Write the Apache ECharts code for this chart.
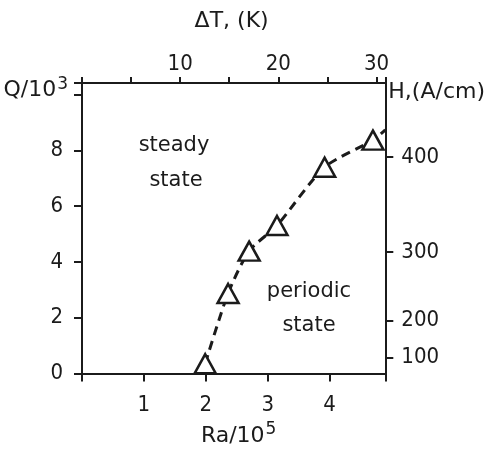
<!DOCTYPE html>
<html>
<head>
<meta charset="utf-8">
<script src="https://cdn.jsdelivr.net/npm/echarts@6/dist/echarts.min.js"></script>
<style>
  html, body { margin: 0; padding: 0; background: #fff; }
  #main { width: 488px; height: 452px; }
</style>
</head>
<body>
<div id="main"></div>
<script>
// measured points (Ra/10^5, Q/10^3)
var raPoints = [1.99, 2.36, 2.70, 3.15, 3.92, 4.70];
var qPoints = [0.35, 2.87, 4.39, 5.31, 7.40, 8.37];
// dashed boundary, runs on to the right frame
var boundaryRa = [1.99, 2.36, 2.70, 3.15, 3.92, 4.70, 4.90];
var boundaryQ = [0.35, 2.87, 4.39, 5.31, 7.40, 8.37, 8.74];
// right axis: H tick labels and where they sit on the Q scale
var hLabels = [100, 200, 300, 400];
var hAtQ = [0.58, 1.90, 4.36, 7.76];
// bottom / top tick labels
var raTicks = [1, 2, 3, 4];
var dtLabels = [10, 20, 30];

var ink = "#1b1b1b";
var numFont = "DejaVu Sans Condensed";
var txtFont = "DejaVu Sans";

var chart = echarts.init(document.getElementById("main"));

var axisCommon = {
  axisLine: { show: true, onZero: false, lineStyle: { color: ink, width: 2 } },
  axisTick: { show: true, inside: false, length: 8, lineStyle: { color: ink, width: 2 } },
  splitLine: { show: false },
  axisLabel: { color: ink, fontFamily: numFont, fontSize: 22 }
};

function regionText(txt, x, y) {
  return {
    type: "text", x: x, y: y,
    style: { text: txt, fill: ink, font: "21px DejaVu Sans", textAlign: "center", textVerticalAlign: "middle" }
  };
}

chart.setOption({
  backgroundColor: "#fff",
  animation: false,
  grid: { left: 82, right: 99, top: 83, bottom: 74 },
  xAxis: [
    echarts.util.merge({
      type: "value",
      position: "bottom",
      min: 0,
      max: 4.9,
      interval: 1,
      name: "Ra/10{s|5}",
      nameLocation: "middle",
      nameGap: 48,
      nameTextStyle: {
        color: ink, fontFamily: txtFont, fontSize: 22, padding: [0, 0, 0, 10],
        rich: { s: { fontSize: 17, fontFamily: txtFont, color: ink, verticalAlign: "top", padding: [0, 0, 12, 1] } }
      },
      axisLabel: {
        margin: 21,
        formatter: function (v) { return raTicks.indexOf(v) >= 0 ? String(v) : ""; }
      }
    }, axisCommon, false),
    echarts.util.merge({
      type: "value",
      position: "top",
      min: 0,
      max: 30.9,
      interval: 5,
      name: "ΔT, (K)",
      nameLocation: "middle",
      nameGap: 51,
      nameTextStyle: { color: ink, fontFamily: txtFont, fontSize: 22, padding: [0, 4, 0, 0] },
      axisTick: { length: 6 },
      axisLabel: {
        margin: 8,
        formatter: function (v) { return dtLabels.indexOf(v) >= 0 ? String(v) : ""; }
      }
    }, axisCommon, false)
  ],
  yAxis: [
    echarts.util.merge({
      type: "value",
      position: "left",
      min: 0,
      max: 10.42,
      interval: 2,
      name: "Q/10{s|3}",
      nameLocation: "end",
      nameGap: -22,
      nameTextStyle: {
        color: ink, fontFamily: txtFont, fontSize: 22, align: "right", padding: [0, 14, 0, 0],
        rich: { s: { fontSize: 17, fontFamily: txtFont, color: ink, verticalAlign: "top", padding: [0, 0, 12, 1] } }
      },
      axisLabel: {
        margin: 19,
        padding: [8, 0, 0, 0],
        formatter: function (v) { return v < 10 ? String(v) : ""; }
      }
    }, axisCommon, false),
    echarts.util.merge({
      type: "value",
      position: "right",
      min: 0,
      max: 10.42,
      name: "H,(A/cm)",
      nameLocation: "end",
      nameGap: -20,
      nameTextStyle: { color: ink, fontFamily: txtFont, fontSize: 22, align: "left", padding: [0, 0, 0, 3] },
      axisTick: { customValues: hAtQ },
      axisLabel: {
        margin: 16,
        padding: [3, 0, 0, 0],
        customValues: hAtQ,
        formatter: function (v) {
          var i = hAtQ.indexOf(v);
          return i >= 0 ? String(hLabels[i]) : "";
        }
      }
    }, axisCommon, false)
  ],
  graphic: [
    regionText("steady", 174, 146),
    regionText("state", 176, 181),
    regionText("periodic", 309, 292),
    regionText("state", 309, 326)
  ],
  series: [
    {
      type: "line",
      xAxisIndex: 0,
      yAxisIndex: 0,
      data: boundaryRa.map(function (x, i) { return [x, boundaryQ[i]]; }),
      smooth: 0.25,
      showSymbol: false,
      lineStyle: { color: ink, width: 3, type: [9, 6] },
      z: 2
    },
    {
      type: "scatter",
      xAxisIndex: 0,
      yAxisIndex: 0,
      data: raPoints.map(function (x, i) { return [x, qPoints[i]]; }),
      symbol: "triangle",
      symbolSize: [21, 19],
      itemStyle: { color: "#fff", borderColor: ink, borderWidth: 2.5, opacity: 1 },
      z: 3
    }
  ]
});
</script>
</body>
</html>
